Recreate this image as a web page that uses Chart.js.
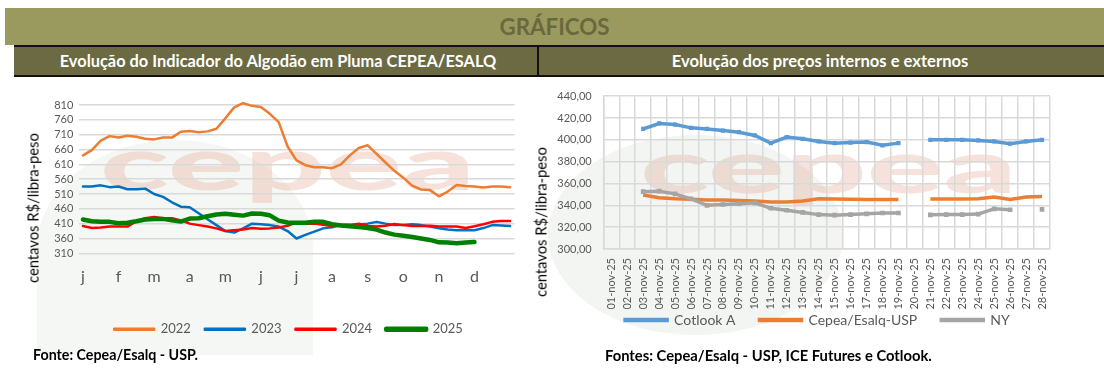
<!DOCTYPE html>
<html><head><meta charset="utf-8">
<script src="https://cdn.jsdelivr.net/npm/chart.js@4"></script>
<style>
html,body{margin:0;padding:0;background:#fff;}
body{width:1104px;height:381px;position:relative;overflow:hidden;font-family:Lato,"Open Sans",sans-serif;}
.abs{position:absolute;}
#band{left:5px;top:8px;width:1099px;height:37px;background:#9b9a5e;}
#title{left:5px;top:8px;width:1099px;height:37px;line-height:37px;text-align:center;font-weight:bold;font-size:22px;color:#6a693d;white-space:nowrap;}
#sub{left:14px;top:45px;width:1090px;height:28px;background:#6b6a42;border-top:2px solid #111;border-bottom:2px solid #111;}
#divider{left:537px;top:45px;width:2px;height:32px;background:#111;}
.st{top:47px;height:28px;line-height:28px;color:#fff;font-weight:bold;font-size:15px;text-align:center;white-space:nowrap;}
#st1{left:14px;width:528px;}
#st2{left:539px;width:562px;}
.src{font-weight:bold;font-size:13px;color:#000;white-space:nowrap;line-height:16px;}
.yt{white-space:nowrap;color:#000;font-size:14px;line-height:17px;transform:translate(-50%,-50%) rotate(-90deg);}
#bg1{left:37px;top:140px;width:276px;height:215px;background:#f5f7f4;border-radius:140px 140px 0 0 / 110px 110px 0 0;}
#bg2{left:548px;top:135px;width:295px;height:200px;background:#f2f5f2;border-radius:50%;}
canvas{position:absolute;}
</style>
</head><body>
<div id="bg1" class="abs"></div>
<div id="bg2" class="abs"></div>
<div id="band" class="abs"></div>
<div id="title" class="abs">GRÁFICOS</div>
<div id="sub" class="abs"></div>
<div id="divider" class="abs"></div>
<div id="st1" class="abs st">Evolução do Indicador do Algodão em Pluma CEPEA/ESALQ</div>
<div id="st2" class="abs st">Evolução dos preços internos e externos</div>

<canvas id="c1" width="520" height="270" style="left:20px;top:78px;"></canvas>
<canvas id="c2" width="577" height="300" style="left:527px;top:78px;"></canvas>

<div id="yt1" class="abs yt" style="left:33px;top:208px;">centavos R$/libra-peso</div>
<div id="yt2" class="abs yt" style="left:541px;top:222px;">centavos R$/libra-peso</div>

<div id="src1" class="abs src" style="left:33px;top:347px;">Fonte: Cepea/Esalq - USP.</div>
<div id="src2" class="abs src" style="left:605px;top:347px;">Fontes: Cepea/Esalq - USP, ICE Futures e Cotlook.</div>

<script>
// ---------- Gráfico 1: Indicador CEPEA/ESALQ (centavos R$/libra-peso) ----------
const meses = ['j','f','m','a','m','j','j','a','s','o','n','d'];
const anos = ['2022','2023','2024','2025'];
const serie2022 = [640,658,690,705,700,706,703,696,694,700,700,720,722,718,721,730,765,802,816,807,803,780,752,670,623,607,600,600,597,610,640,665,674,645,616,588,565,538,525,523,502,518,540,537,535,532,535,535,533];
const serie2023 = [535,535,539,533,535,526,526,528,510,500,482,467,465,445,425,405,385,380,394,410,408,405,400,385,360,372,383,394,398,405,406,407,410,416,410,405,405,408,405,400,394,390,388,388,388,395,405,404,402];
const serie2024 = [402,395,397,400,400,400,418,428,432,428,428,421,410,405,400,394,385,388,390,395,393,394,397,403,414,410,410,406,402,405,405,410,402,400,403,409,405,402,402,403,400,400,400,395,401,408,416,419,419];
const serie2025 = [424,418,416,416,411,413,418,424,426,426,421,417,427,428,435,441,443,440,437,444,443,438,420,414,413,413,416,416,408,404,401,399,395,390,380,373,369,365,360,355,347,346,344,346,348,null,null,null,null];
const ticksY1 = [310,360,410,460,510,560,610,660,710,760,810];

// ---------- Gráfico 2: preços internos e externos ----------
const dias = ['01-nov-25','02-nov-25','03-nov-25','04-nov-25','05-nov-25','06-nov-25','07-nov-25','08-nov-25','09-nov-25','10-nov-25','11-nov-25','12-nov-25','13-nov-25','14-nov-25','15-nov-25','16-nov-25','17-nov-25','18-nov-25','19-nov-25','20-nov-25','21-nov-25','22-nov-25','23-nov-25','24-nov-25','25-nov-25','26-nov-25','27-nov-25','28-nov-25'];
const cotlookA = [null,null,410,415,414,411,410,408.5,407,404,397,402.5,401,398.5,397,397.5,398,395,397,null,400,400,400,399.5,398.5,396.5,398.5,400];
const cepeaUSP = [null,null,349.5,347,346,345.5,345,345,344.5,344,343,343,344,346,345.8,345.5,345.3,345.3,345.3,null,345.8,345.8,345.8,346,347.6,345.3,347.6,348];
const nyICE = [null,null,352.5,353,350.5,346,340,340.8,341.5,342.3,337.3,335.5,333.5,331.5,331,331.5,332.2,333,333,null,331.3,331.5,331.5,332,336.8,336,null,336.3];

// ---------- text sizing helper ----------
function fitText(id, target){
  const el = document.getElementById(id);
  const cs = getComputedStyle(el);
  const ctx = document.createElement('canvas').getContext('2d');
  ctx.font = cs.fontWeight + ' ' + cs.fontSize + ' ' + cs.fontFamily;
  const w = ctx.measureText(el.textContent).width;
  el.style.fontSize = (parseFloat(cs.fontSize) * target / w) + 'px';
}
fitText('title', 110);
fitText('st1', 438);
fitText('st2', 297);
fitText('src1', 165);
fitText('src2', 327);
fitText('yt1', 150);
fitText('yt2', 150);

Chart.defaults.font.family = 'Lato, "Open Sans", sans-serif';
Chart.defaults.color = '#595959';

// place legend centre at a given canvas point
const legendPos = {
  id: 'legendPos',
  afterLayout(chart, args, opts) {
    const l = chart.legend;
    if (!l || opts.cx == null) return;
    const pad = l.options.labels.padding;
    const fs = l.options.labels.font.size;
    const dx = opts.cx - (l.left + l.right) / 2;
    const dy = opts.cy - (l.top + pad + fs / 2);
    l.left += dx; l.right += dx; l.top += dy; l.bottom += dy;
  }
};
// faint "cepea" watermark behind the plot
const watermark = {
  id: 'watermark',
  beforeDraw(chart, args, opts) {
    const ctx = chart.ctx;
    ctx.save();
    ctx.font = '900 80px Lato';
    ctx.fillStyle = 'rgba(225,150,125,0.28)';
    ctx.textBaseline = 'alphabetic';
    const w = ctx.measureText('cepea').width;
    ctx.translate(opts.x, opts.y);
    ctx.scale(opts.w / w, 0.92);
    ctx.fillText('cepea', 0, 0);
    ctx.restore();
  }
};

const rotulos = Array.from({length: 49}, (_, i) => (i % 4 === 0 && i < 48) ? meses[i / 4] : '');
const coresAnos = ['#ed7d31', '#0070c0', '#ff0000', '#008000'];
const largAnos = [2.5, 2.5, 2.5, 4.5];
const seriesAnos = [serie2022, serie2023, serie2024, serie2025];

new Chart(document.getElementById('c1'), {
  type: 'line',
  data: {
    labels: rotulos,
    datasets: anos.map((a, k) => ({
      label: a, data: seriesAnos[k],
      borderColor: coresAnos[k], backgroundColor: coresAnos[k],
      borderWidth: largAnos[k], pointRadius: 0, tension: 0,
      borderJoinStyle: 'round', borderCapStyle: 'round', order: 4 - k
    }))
  },
  plugins: [legendPos, watermark],
  options: {
    responsive: false, animation: false, devicePixelRatio: 1,
    layout: { padding: { left: 0, right: 25.5, top: 24, bottom: 17.7 } },
    plugins: {
      tooltip: { enabled: false },
      legendPos: { cx: 268.5, cy: 251.3 },
      watermark: { x: 80, y: 112, w: 375 },
      legend: {
        position: 'bottom',
        labels: { boxWidth: 40, boxHeight: 1, padding: 14, color: '#595959', font: { size: 13 },
                  sort: (a, b) => a.datasetIndex - b.datasetIndex }
      }
    },
    scales: {
      x: {
        type: 'category', offset: true,
        grid: { display: false, drawTicks: false }, border: { display: false },
        ticks: { autoSkip: false, maxRotation: 0, minRotation: 0, padding: 13.8, color: '#595959', font: { size: 16 } },
        afterFit: s => { s.height = 40; }
      },
      y: {
        min: 310, max: 820,
        grid: { color: '#d9d9d9', lineWidth: 1.5, drawTicks: false }, border: { display: false },
        ticks: { autoSkip: false, padding: 5.2, color: '#595959', font: { size: 11 } },
        afterBuildTicks: s => { s.ticks = ticksY1.map(v => ({ value: v })); },
        afterFit: s => { s.width = 58.5; }
      }
    }
  }
});

const fmt = v => v.toFixed(2).replace('.', ',');
new Chart(document.getElementById('c2'), {
  type: 'line',
  data: {
    labels: dias,
    datasets: [
      { label: 'Cotlook A', data: cotlookA, borderColor: '#5b9bd5', backgroundColor: '#5b9bd5', borderWidth: 3.5,
        pointStyle: 'rect', pointRadius: 3, pointBorderWidth: 0, pointBackgroundColor: '#5b9bd5', tension: 0, order: 3, spanGaps: false },
      { label: 'Cepea/Esalq-USP', data: cepeaUSP, borderColor: '#ed7d31', backgroundColor: '#ed7d31', borderWidth: 3.5,
        pointRadius: 0, tension: 0, order: 2, spanGaps: false },
      { label: 'NY', data: nyICE, borderColor: '#a5a5a5', backgroundColor: '#a5a5a5', borderWidth: 3.5,
        pointStyle: 'rect', pointRadius: 3.3, pointBorderWidth: 0, pointBackgroundColor: '#a5a5a5', tension: 0, order: 1, spanGaps: false }
    ]
  },
  plugins: [legendPos, watermark],
  options: {
    responsive: false, animation: false, devicePixelRatio: 1,
    layout: { padding: { left: 0, right: 54, top: 12, bottom: 21 } },
    plugins: {
      tooltip: { enabled: false },
      legendPos: { cx: 290.4, cy: 242 },
      watermark: { x: 113, y: 115, w: 377 },
      legend: {
        position: 'bottom',
        labels: { boxWidth: 42, boxHeight: 1, padding: 24, color: '#595959', font: { size: 14 },
                  sort: (a, b) => a.datasetIndex - b.datasetIndex }
      }
    },
    scales: {
      x: {
        type: 'category', offset: true,
        grid: { color: '#d9d9d9', lineWidth: 1.5, drawTicks: false, offset: true }, border: { color: '#d9d9d9', width: 1.5 },
        ticks: { autoSkip: false, maxRotation: 90, minRotation: 90, padding: 9, color: '#595959', font: { size: 11 } },
        afterFit: s => { s.height = 60; }
      },
      y: {
        min: 300, max: 440,
        grid: { color: '#d9d9d9', lineWidth: 1.5, drawTicks: false }, border: { color: '#d9d9d9', width: 1.5 },
        ticks: { stepSize: 20, padding: 11.6, color: '#595959', font: { size: 11 }, callback: v => fmt(v) },
        afterFit: s => { s.width = 76.3; }
      }
    }
  }
});
</script>
</body></html>
